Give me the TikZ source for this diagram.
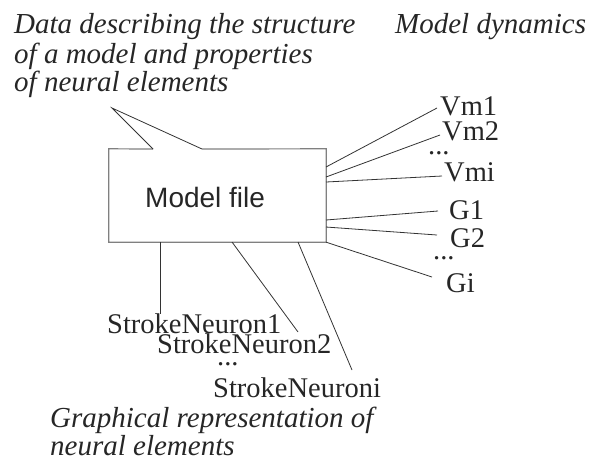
\documentclass[tikz,border=0pt]{standalone}
\usepackage{fontspec}
\setmainfont{Liberation Serif}
\newfontfamily\labelsans{Liberation Sans}
\begin{document}
\begin{tikzpicture}[x=1pt,y=-1pt,
  serif/.style={font=\fontsize{28.5}{29}\selectfont, inner sep=0pt, anchor=base west, text=black!85},
  ital/.style={font=\fontsize{29}{29}\selectfont\itshape, inner sep=0pt, anchor=base west, text=black!85},
  boxline/.style={draw=black!50, line width=1.2pt},
  conn/.style={draw=black!80, line width=0.8pt}]
\useasboundingbox (0,0) rectangle (593,467);

% texts
\node[ital] (d1) at (14,33) {Data describing the structure};
\node[ital] (d2) at (14,63) {of a model and properties};
\node[ital] (d3) at (14,91) {of neural elements};
\node[ital] (md) at (395,33) {Model dynamics};
\node[ital] (g1) at (50,427) {Graphical representation of};
\node[ital] (g2) at (50,455) {neural elements};

% box
\node[minimum width=217pt, minimum height=93pt, inner sep=0pt] (box) at (217.5,195.5) {};
\node[font=\labelsans\fontsize{28}{30}\selectfont, inner sep=0pt, anchor=base west, text=black!85] (mf) at (145,207) {Model file};
\coordinate (tipL) at (153,149);
\coordinate (tipR) at (202,149);
\coordinate (tip) at (112,108);
\draw[boxline] (tipL) -- (box.north west) -- (box.south west) -- (box.south east) -- (box.north east) -- (tipR);
\draw[conn] (tipL) -- (tip) -- (tipR);

% right labels
\node[serif] (vm1) at (440,115) {Vm1};
\node[serif] (vm2) at (442,140) {Vm2};
\node[serif] (vdots) at (428,154) {...};
\node[serif] (vmi) at (444,181) {Vmi};
\node[serif] (G1) at (449,219) {G1};
\node[serif] (G2) at (450,247) {G2};
\node[serif] (gdots) at (433,259) {...};
\node[serif] (Gi) at (446,292) {Gi};

% bottom labels
\node[serif] (sn1) at (107,333) {StrokeNeuron1};
\node[serif] (sn2) at (157,353) {StrokeNeuron2};
\node[serif] (sdots) at (217,365) {...};
\node[serif] (sni) at (213,397) {StrokeNeuroni};

% connector ends
\coordinate (a1) at (326,167); \coordinate (b1) at (437,108);
\coordinate (a2) at (326,177); \coordinate (b2) at (440,135);
\coordinate (a3) at (326,182); \coordinate (b3) at (442,176);
\coordinate (a4) at (326,220); \coordinate (b4) at (438,211);
\coordinate (a5) at (326,227); \coordinate (b5) at (437,235);
\coordinate (b6) at (432,277);
\coordinate (c1) at (160,242); \coordinate (e1) at (160,314);
\coordinate (c2) at (232,242); \coordinate (e2) at (298,332);
\coordinate (c3) at (298,242); \coordinate (e3) at (352,370);

\draw[conn] (a1) -- (b1);
\draw[conn] (a2) -- (b2);
\draw[conn] (a3) -- (b3);
\draw[conn] (a4) -- (b4);
\draw[conn] (a5) -- (b5);
\draw[conn] (box.south east) -- (b6);
\draw[conn] (c1) -- (e1);
\draw[conn] (c2) -- (e2);
\draw[conn] (c3) -- (e3);
\end{tikzpicture}
\end{document}
